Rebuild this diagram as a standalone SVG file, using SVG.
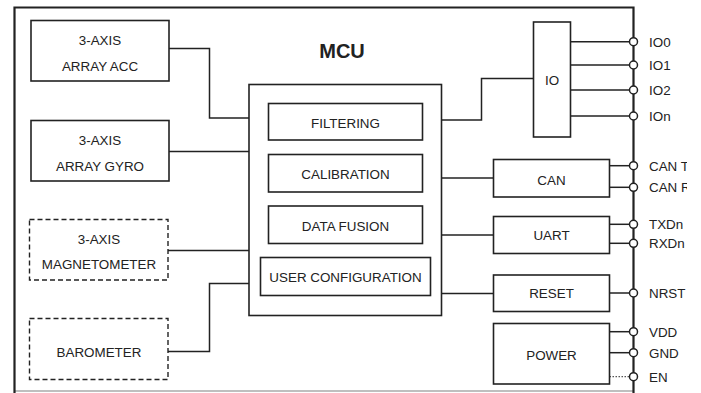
<svg xmlns="http://www.w3.org/2000/svg" width="701" height="393" viewBox="0 0 701 393">
<style>
.box{fill:#fff;stroke:#222;stroke-width:1.6}
.dash{fill:#fff;stroke:#222;stroke-width:1.4;stroke-dasharray:5,3}
.ln{fill:none;stroke:#222;stroke-width:1.5}
.pin{fill:#fff;stroke:#222;stroke-width:1.5}
text{font-family:"Liberation Sans",Arial,sans-serif;font-size:13.4px;fill:#222}
.c{text-anchor:middle}
.lbl{font-size:13.4px}
</style>
<defs>
<clipPath id="edge"><rect x="0" y="0" width="687" height="393"/></clipPath>
</defs>
<rect width="701" height="393" fill="#fff"/>
<g id="frame">
<line x1="14.5" y1="391" x2="633" y2="391" stroke="#aaa" stroke-width="1.5"/>
<polyline points="14.5,393 14.5,7.5 633.5,7.5 633.5,393" fill="none" stroke="#222" stroke-width="2.2"/>
<text x="342" y="58" class="c" style="font-size:20px;font-weight:bold">MCU</text>
</g>
<g id="connectors">
<polyline class="ln" points="169,48.5 209.5,48.5 209.5,118 249,118"/>
<line class="ln" x1="169" y1="151.5" x2="249" y2="151.5"/>
<line class="ln" x1="168" y1="250.5" x2="249" y2="250.5"/>
<polyline class="ln" points="168,351.5 209.5,351.5 209.5,283.5 249,283.5"/>
<polyline class="ln" points="441.5,120 481.5,120 481.5,78.5 533.5,78.5"/>
<line class="ln" x1="441.5" y1="178" x2="493.5" y2="178"/>
<line class="ln" x1="441.5" y1="235" x2="493.5" y2="235"/>
<line class="ln" x1="441.5" y1="293.5" x2="493.5" y2="293.5"/>
<line class="ln" x1="570.5" y1="41.7" x2="630" y2="41.7"/>
<line class="ln" x1="570.5" y1="65" x2="630" y2="65"/>
<line class="ln" x1="570.5" y1="90" x2="630" y2="90"/>
<line class="ln" x1="570.5" y1="116" x2="630" y2="116"/>
<line class="ln" x1="609.5" y1="165.7" x2="630" y2="165.7"/>
<line class="ln" x1="609.5" y1="187.3" x2="630" y2="187.3"/>
<line class="ln" x1="609.5" y1="224.3" x2="630" y2="224.3"/>
<line class="ln" x1="609.5" y1="243.3" x2="630" y2="243.3"/>
<line class="ln" x1="609.5" y1="293" x2="630" y2="293"/>
<line class="ln" x1="609.5" y1="331.7" x2="630" y2="331.7"/>
<line class="ln" x1="609.5" y1="352.7" x2="630" y2="352.7"/>
<line x1="609.5" y1="376.7" x2="630" y2="376.7" stroke="#555" stroke-width="1.2" stroke-dasharray="1.5,1.5"/>
</g>
<g id="pins">
<circle class="pin" cx="633.5" cy="41.7" r="4"/>
<circle class="pin" cx="633.5" cy="65" r="4"/>
<circle class="pin" cx="633.5" cy="90" r="4"/>
<circle class="pin" cx="633.5" cy="116" r="4"/>
<circle class="pin" cx="633.5" cy="165.7" r="4"/>
<circle class="pin" cx="633.5" cy="187.3" r="4"/>
<circle class="pin" cx="633.5" cy="224.3" r="4"/>
<circle class="pin" cx="633.5" cy="243.3" r="4"/>
<circle class="pin" cx="633.5" cy="293" r="4"/>
<circle class="pin" cx="633.5" cy="331.7" r="4"/>
<circle class="pin" cx="633.5" cy="352.7" r="4"/>
<circle class="pin" cx="633.5" cy="376.7" r="4"/>
</g>
<g id="pin-labels" clip-path="url(#edge)">
<text x="649" y="46.5" class="lbl">IO0</text>
<text x="649" y="70" class="lbl">IO1</text>
<text x="649" y="95" class="lbl">IO2</text>
<text x="649" y="121" class="lbl">IOn</text>
<text x="649" y="170.5" class="lbl">CAN TX</text>
<text x="649" y="192" class="lbl">CAN RX</text>
<text x="649" y="229" class="lbl">TXDn</text>
<text x="649" y="248" class="lbl">RXDn</text>
<text x="649" y="298" class="lbl">NRST</text>
<text x="649" y="336.5" class="lbl">VDD</text>
<text x="649" y="357.5" class="lbl">GND</text>
<text x="649" y="381.5" class="lbl">EN</text>
</g>
<g id="acc"><rect class="box" x="31" y="20.5" width="138" height="60.5"/><text x="100" y="45" class="c">3-AXIS</text><text x="100" y="71" class="c">ARRAY ACC</text></g>
<g id="gyro"><rect class="box" x="31" y="120.5" width="138" height="60.5"/><text x="100" y="144.5" class="c">3-AXIS</text><text x="100" y="170.5" class="c">ARRAY GYRO</text></g>
<g id="mag"><rect class="dash" x="29.5" y="219.5" width="138.5" height="60.5"/><text x="99" y="243.5" class="c">3-AXIS</text><text x="99" y="269" class="c">MAGNETOMETER</text></g>
<g id="baro"><rect class="dash" x="29.5" y="318.5" width="138.5" height="61"/><text x="99" y="356.5" class="c">BAROMETER</text></g>
<g id="core"><rect class="box" x="249" y="84.5" width="192.5" height="231"/></g>
<g id="filtering"><rect class="box" x="268.5" y="103.5" width="154" height="36.5"/><text x="345.5" y="127.5" class="c">FILTERING</text></g>
<g id="calibration"><rect class="box" x="268.5" y="154.5" width="154" height="37.5"/><text x="345.5" y="179" class="c">CALIBRATION</text></g>
<g id="fusion"><rect class="box" x="268.5" y="206" width="154" height="37.5"/><text x="345.5" y="230.5" class="c">DATA FUSION</text></g>
<g id="userconf"><rect class="box" x="260.5" y="257.5" width="170" height="38"/><text x="345.5" y="282" class="c">USER CONFIGURATION</text></g>
<g id="io"><rect class="box" x="533.5" y="22" width="37" height="115"/><text x="552" y="85" class="c">IO</text></g>
<g id="can"><rect class="box" x="493.5" y="159.5" width="116" height="37.5"/><text x="551.5" y="185" class="c">CAN</text></g>
<g id="uart"><rect class="box" x="493.5" y="216.5" width="116" height="37"/><text x="551.5" y="240" class="c">UART</text></g>
<g id="reset"><rect class="box" x="493.5" y="275" width="116" height="36.5"/><text x="551.5" y="298" class="c">RESET</text></g>
<g id="power"><rect class="box" x="493.5" y="323.5" width="116" height="60.5"/><text x="551.5" y="359.5" class="c">POWER</text></g>
</svg>
